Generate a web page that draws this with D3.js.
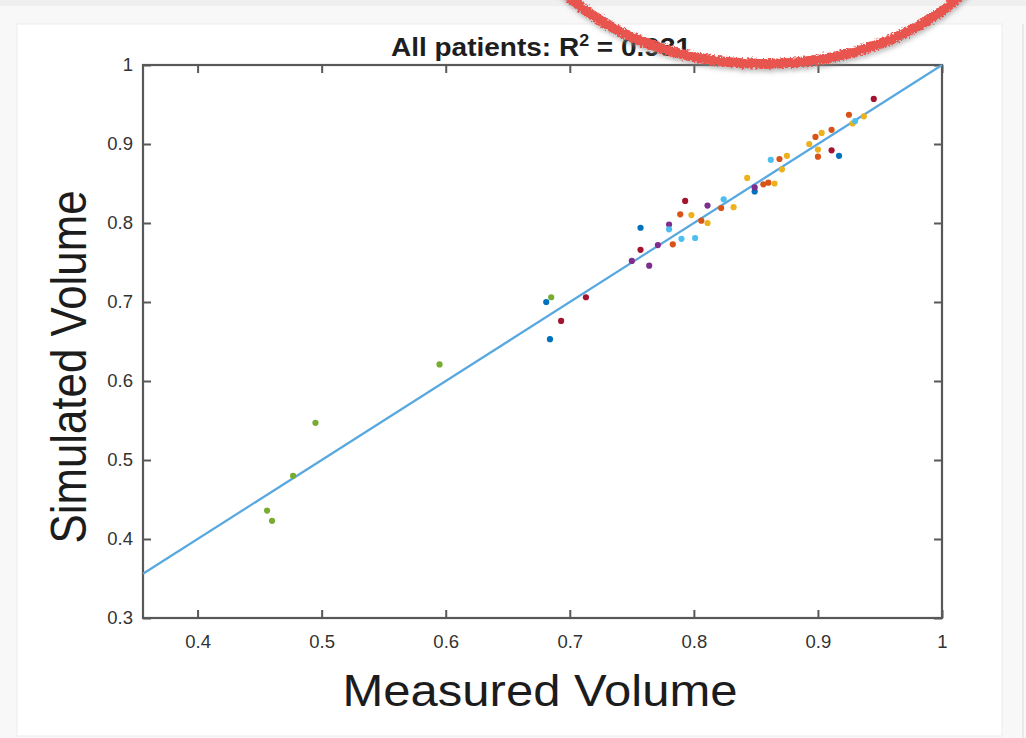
<!DOCTYPE html>
<html>
<head>
<meta charset="utf-8">
<script src="https://cdn.jsdelivr.net/npm/d3@7"></script>
<style>
  html, body { margin: 0; padding: 0; background: #f6f6f6; }
  svg { display: block; }
</style>
</head>
<body>
<svg id="chart" width="1026" height="738"></svg>
<script>
// Per-patient volumes (normalised), one array per patient
const patients = ["Patient 1", "Patient 2", "Patient 3", "Patient 4", "Patient 5", "Patient 6", "Patient 7"];
const patientColors = ["#0072BD", "#D95319", "#EDB120", "#7E2F8E", "#77AC30", "#4DBEEE", "#A2142F"];

const measuredP1 = [0.681, 0.684, 0.757, 0.849, 0.917];
const simulatedP1 = [0.700, 0.653, 0.794, 0.840, 0.885];

const measuredP2 = [0.783, 0.789, 0.806, 0.822, 0.856, 0.860, 0.869, 0.900, 0.898, 0.911, 0.925];
const simulatedP2 = [0.773, 0.811, 0.803, 0.819, 0.849, 0.851, 0.881, 0.884, 0.909, 0.918, 0.937];

const measuredP3 = [0.798, 0.811, 0.832, 0.843, 0.865, 0.871, 0.875, 0.893, 0.900, 0.903, 0.928, 0.937];
const simulatedP3 = [0.810, 0.800, 0.820, 0.857, 0.850, 0.868, 0.885, 0.900, 0.893, 0.914, 0.926, 0.935];

const measuredP4 = [0.750, 0.764, 0.771, 0.780, 0.811, 0.849];
const simulatedP4 = [0.752, 0.746, 0.772, 0.798, 0.822, 0.845];

const measuredP5 = [0.685, 0.595, 0.495, 0.477, 0.456, 0.460];
const simulatedP5 = [0.706, 0.621, 0.547, 0.480, 0.436, 0.423];

const measuredP6 = [0.780, 0.790, 0.801, 0.824, 0.862, 0.930];
const simulatedP6 = [0.792, 0.780, 0.781, 0.830, 0.880, 0.929];

const measuredP7 = [0.713, 0.693, 0.757, 0.793, 0.911, 0.945];
const simulatedP7 = [0.706, 0.676, 0.766, 0.828, 0.892, 0.957];

const measuredByPatient = [measuredP1, measuredP2, measuredP3, measuredP4, measuredP5, measuredP6, measuredP7];
const simulatedByPatient = [simulatedP1, simulatedP2, simulatedP3, simulatedP4, simulatedP5, simulatedP6, simulatedP7];

// Identity reference line and axes
const identityLine = [0.356, 1];
const xDomain = [0.356, 1];
const yDomain = [0.3, 1];
const xTicks = [0.4, 0.5, 0.6, 0.7, 0.8, 0.9, 1];
const xTickLabels = ["0.4", "0.5", "0.6", "0.7", "0.8", "0.9", "1"];
const yTicks = [0.3, 0.4, 0.5, 0.6, 0.7, 0.8, 0.9, 1];
const yTickLabels = ["0.3", "0.4", "0.5", "0.6", "0.7", "0.8", "0.9", "1"];

const titleText = "All patients: R";
const rSquared = "0.931";
const xLabel = "Measured Volume";
const yLabel = "Simulated Volume";

// ---------------------------------------------------------------
const svg = d3.select("#chart");
const W = 1026, H = 738;
const plot = { left: 143, right: 942, top: 65, bottom: 618 };
const font = "'Liberation Sans', Arial, Helvetica, sans-serif";

// page + card background
svg.append("rect").attr("width", W).attr("height", H).attr("fill", "#f8f8f8");
svg.append("rect").attr("width", W).attr("height", 6).attr("fill", "#efefef");
svg.append("rect")
  .attr("x", 17).attr("y", 24).attr("width", 985).attr("height", 712)
  .attr("fill", "#ffffff").attr("stroke", "#ebebeb").attr("stroke-width", 1);
svg.append("line").attr("x1", 1023).attr("x2", 1023).attr("y1", 24).attr("y2", H)
  .attr("stroke", "#e4e4e4").attr("stroke-width", 1.5);

const x = d3.scaleLinear().domain(xDomain).range([plot.left, plot.right]);
const y = d3.scaleLinear().domain(yDomain).range([plot.bottom, plot.top]);

const axisColor = "#585858";
const tickLen = 8;

function styleAxis(g) {
  g.select(".domain").remove();
  g.selectAll(".tick line").attr("stroke", axisColor).attr("stroke-width", 2);
  g.selectAll(".tick text").attr("fill", "#333333").attr("font-family", font).attr("font-size", 18.5);
}

// bottom axis with labels
svg.append("g")
  .attr("transform", `translate(0,${plot.bottom})`)
  .call(d3.axisBottom(x).tickValues(xTicks).tickSizeInner(-tickLen).tickSizeOuter(0)
        .tickPadding(17).tickFormat((d, i) => xTickLabels[i]))
  .call(styleAxis);

// top axis, ticks only
svg.append("g")
  .attr("transform", `translate(0,${plot.top})`)
  .call(d3.axisTop(x).tickValues(xTicks).tickSizeInner(-tickLen).tickSizeOuter(0).tickFormat(""))
  .call(styleAxis);

// left axis with labels
svg.append("g")
  .attr("transform", `translate(${plot.left},0)`)
  .call(d3.axisLeft(y).tickValues(yTicks).tickSizeInner(-tickLen).tickSizeOuter(0)
        .tickPadding(10).tickFormat((d, i) => yTickLabels[i]))
  .call(styleAxis);

// right axis, ticks only
svg.append("g")
  .attr("transform", `translate(${plot.right},0)`)
  .call(d3.axisRight(y).tickValues(yTicks).tickSizeInner(-tickLen).tickSizeOuter(0).tickFormat(""))
  .call(styleAxis);

// box frame
svg.append("rect")
  .attr("x", plot.left).attr("y", plot.top)
  .attr("width", plot.right - plot.left).attr("height", plot.bottom - plot.top)
  .attr("fill", "none").attr("stroke", axisColor).attr("stroke-width", 2.2);

// identity line y = x
svg.append("path")
  .datum(identityLine)
  .attr("fill", "none")
  .attr("stroke", "#58a8e0")
  .attr("stroke-width", 2.2)
  .attr("d", d3.line().x(d => x(d)).y(d => y(d)));

// patient points
const points = [];
patients.forEach((p, i) => {
  measuredByPatient[i].forEach((m, j) => {
    points.push({ patient: i, measured: m, simulated: simulatedByPatient[i][j] });
  });
});
svg.append("g")
  .selectAll("circle")
  .data(points)
  .join("circle")
  .attr("cx", d => x(d.measured))
  .attr("cy", d => y(d.simulated))
  .attr("r", 3.1)
  .attr("fill", d => patientColors[d.patient]);

// title (slightly widened, like the rest of the figure's lettering)
const titleX = 541;
const title = svg.append("text")
  .attr("transform", `translate(${titleX},56) scale(1.12,1)`)
  .attr("text-anchor", "middle")
  .attr("font-family", font)
  .attr("font-weight", "bold")
  .attr("font-size", 25)
  .attr("fill", "#1e1e1e");
title.append("tspan").text(titleText);
title.append("tspan").attr("font-size", 16).attr("dy", -10).text("2");
title.append("tspan").attr("dy", 10).text(" = " + rSquared);

// axis labels
svg.append("text")
  .attr("x", 540).attr("y", 706)
  .attr("text-anchor", "middle")
  .attr("font-family", font)
  .attr("font-size", 44)
  .attr("textLength", 395)
  .attr("lengthAdjust", "spacingAndGlyphs")
  .attr("fill", "#1c1c1c")
  .text(xLabel);

svg.append("text")
  .attr("transform", "translate(86,367) rotate(-90) scale(1,1.14)")
  .attr("text-anchor", "middle")
  .attr("font-family", font)
  .attr("font-size", 44)
  .attr("textLength", 353)
  .attr("lengthAdjust", "spacingAndGlyphs")
  .attr("fill", "#1c1c1c")
  .text(yLabel);

// hand-drawn highlight ring around the statistic
const defs = svg.append("defs");
const f = defs.append("filter").attr("id", "rough")
  .attr("x", "-20%").attr("y", "-20%").attr("width", "140%").attr("height", "140%");
f.append("feTurbulence").attr("type", "fractalNoise").attr("baseFrequency", 0.45)
  .attr("numOctaves", 2).attr("seed", 7).attr("result", "noise");
f.append("feDisplacementMap").attr("in", "SourceGraphic").attr("in2", "noise")
  .attr("scale", 6).attr("xChannelSelector", "R").attr("yChannelSelector", "G").attr("result", "disp");
f.append("feGaussianBlur").attr("in", "disp").attr("stdDeviation", 2.2).attr("result", "blur");
f.append("feOffset").attr("in", "blur").attr("dx", 1).attr("dy", 3).attr("result", "off");
f.append("feColorMatrix").attr("in", "off").attr("type", "matrix")
  .attr("values", "0 0 0 0 0.25  0 0 0 0 0.25  0 0 0 0 0.25  0 0 0 0.55 0").attr("result", "shadow");
const merge = f.append("feMerge");
merge.append("feMergeNode").attr("in", "shadow");
merge.append("feMergeNode").attr("in", "disp");

svg.append("ellipse")
  .attr("cx", 764).attr("cy", -106)
  .attr("rx", 245).attr("ry", 170)
  .attr("fill", "none")
  .attr("stroke", "#e8554f")
  .attr("stroke-width", 10)
  .attr("filter", "url(#rough)");
</script>
</body>
</html>
